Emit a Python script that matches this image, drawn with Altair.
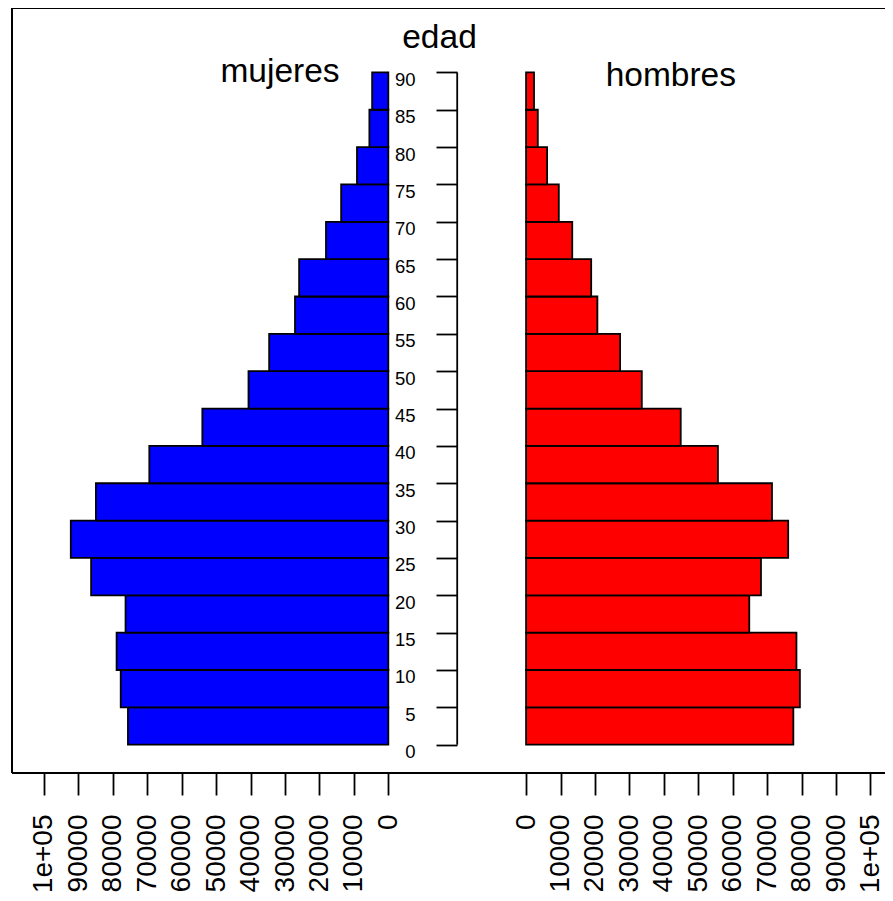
import altair as alt
import pandas as pd

# ---- data ----
ages = list(range(0, 90, 5))            # lower bound of each 5-year group
mujeres = [75600, 77700, 78900, 76300, 86300, 92200, 84900, 69400, 54000,
           40600, 34600, 27100, 25900, 18100, 13700, 9100, 5500, 4700]
hombres = [77600, 79500, 78500, 64800, 68200, 76100, 71400, 55700, 44900,
           33600, 27300, 20700, 18900, 13400, 9500, 6100, 3400, 2300]
age_ticks = list(range(0, 95, 5))
value_ticks = list(range(0, 100001, 10000))
titles = ["mujeres", "edad", "hombres"]

GAP = 20000                 # half gap between the two halves (data units)
XMIN, XMAX = -129270, 124214
YMIN, YMAX = -3.79, 98.62
FONT = "Liberation Sans"

rows = []
for a, m, h in zip(ages, mujeres, hombres):
    rows.append(dict(sexo="mujeres", x=-(GAP + m), x2=-GAP, y=a, y2=a + 5))
    rows.append(dict(sexo="hombres", x=GAP, x2=GAP + h, y=a, y2=a + 5))
bars_df = pd.DataFrame(rows)

xscale = alt.Scale(domain=[XMIN, XMAX], nice=False, zero=False)
yscale = alt.Scale(domain=[YMIN, YMAX], nice=False, zero=False)

tick_vals = [-(GAP + v) for v in value_ticks] + [GAP + v for v in value_ticks]
xaxis = alt.Axis(
    values=tick_vals, domain=False, grid=False, ticks=True, tickSize=22,
    tickWidth=1.8, tickColor="black", labelAngle=270, labelFontSize=28,
    labelFont=FONT, labelColor="black", labelPadding=19, labelOverlap=False,
    labelFlush=False, labelBound=False,
    labelExpr=(f"abs(datum.value) - {GAP} >= 100000 ? '1e+05' : "
               f"format(abs(datum.value) - {GAP}, 'd')"),
    title=None,
)
yaxis = alt.Axis(
    orient="left", offset=-445, values=age_ticks, domain=False, grid=False,
    tickSize=21, tickWidth=1.8, tickColor="black", labelFontSize=18.5,
    labelFont=FONT, labelColor="black", labelPadding=21, labelOffset=7,
    labelOverlap=False, labelFlush=False, labelBound=False, title=None,
)

X = alt.X("x:Q", scale=xscale, axis=xaxis, title=None)
Y = alt.Y("y:Q", scale=yscale, axis=yaxis, title=None)

bars = alt.Chart(bars_df).mark_rect(stroke="black", strokeWidth=1.8).encode(
    x=X, x2="x2:Q", y=Y, y2="y2:Q",
    color=alt.Color("sexo:N", scale=alt.Scale(domain=["mujeres", "hombres"],
                                               range=["#0000FF", "#FF0000"]),
                    legend=None),
)

box_df = pd.DataFrame([
    dict(x=XMIN, x2=XMAX, y=YMAX, y2=YMAX),
    dict(x=XMIN, x2=XMAX, y=YMIN, y2=YMIN),
    dict(x=XMIN, x2=XMIN, y=YMIN, y2=YMAX),
])
box = alt.Chart(box_df).mark_rule(color="black", strokeWidth=2).encode(
    x=X, x2="x2:Q", y=Y, y2="y2:Q")

center_df = pd.DataFrame([dict(x=0, y=age_ticks[0], y2=age_ticks[-1])])
center = alt.Chart(center_df).mark_rule(color="black", strokeWidth=1.8).encode(
    x=X, y=Y, y2="y2:Q")

def label(text, px, py):
    return alt.Chart(pd.DataFrame({"t": [text]})).mark_text(
        font=FONT, fontSize=33.5, color="black", align="center",
        baseline="alphabetic").encode(
        x=alt.value(px), y=alt.value(py), text="t:N")

t_muj = label(titles[0], 268, 74)
t_edad = label(titles[1], 427.5, 40.3)
t_hom = label(titles[2], 658.8, 78)

chart = alt.layer(bars, box, center, t_muj, t_edad, t_hom).properties(
    width=873, height=765,
    padding={"left": 4, "top": 0, "right": 0, "bottom": 120},
    autosize=alt.AutoSizeParams(type="none"),
).configure(font=FONT).configure_view(strokeWidth=0)

chart.save("out.html", embed_options={"renderer": "svg", "actions": False})
